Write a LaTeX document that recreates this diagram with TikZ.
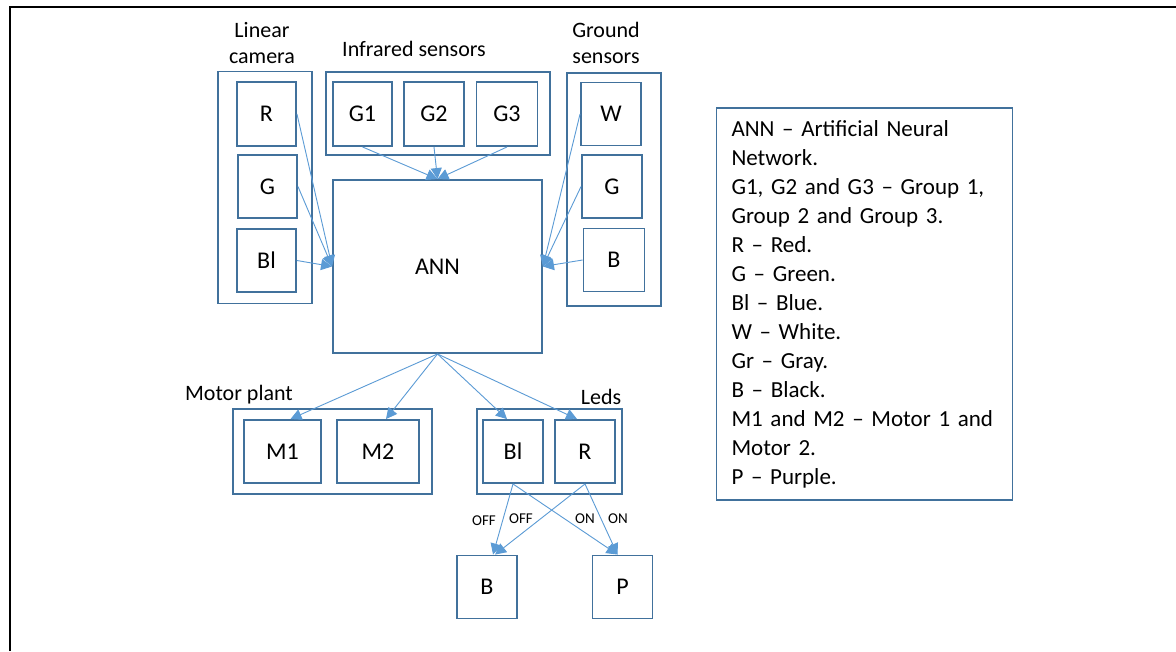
\documentclass[tikz,border=0pt]{standalone}
\usepackage{fontspec}
\setmainfont{Carlito}
\usetikzlibrary{arrows.meta}
\definecolor{boxblue}{HTML}{41719C}
\definecolor{arrblue}{HTML}{5B9BD5}
\begin{document}
\begin{tikzpicture}[x=1pt,y=-1pt,
  box/.style={draw=boxblue,line width=1.9pt,rectangle,inner sep=0pt,font=\fontsize{24}{28}\selectfont},
  grp/.style={draw=boxblue,line width=1.9pt,rectangle,inner sep=0pt},
  lbl/.style={inner sep=0pt,font=\fontsize{22}{26}\selectfont,align=center},
  small/.style={inner sep=0pt,font=\fontsize{15}{17}\selectfont},
  arr/.style={draw=arrblue,line width=0.9pt,-{Triangle[length=11pt,width=11pt]}}]
\useasboundingbox (0,0) rectangle (1176,651);
\fill[white] (0,0) rectangle (1176,651);
\draw[line width=2pt,black] (10,651) -- (10,7) -- (1176,7);
% group frames
\node[grp,minimum width=94,minimum height=232] (cam) at (265,187.5) {};
\node[grp,minimum width=224,minimum height=83] (ir) at (438,113.5) {};
\node[grp,minimum width=94,minimum height=233] (gnd) at (614,189.5) {};
\node[grp,minimum width=199,minimum height=85] (mot) at (332.5,451.5) {};
\node[grp,minimum width=145,minimum height=85] (leds) at (549.5,451.5) {};
% labels
\node[lbl] (lcam) at (262,43) {Linear\\camera};
\node[lbl] (lir) at (414,49) {Infrared sensors};
\node[lbl] (lgnd) at (606,43) {Ground\\sensors};
\node[lbl] (lmot) at (239,395) {Motor plant};
\node[lbl] (lleds) at (601,397) {Leds};
% camera
\node[box,minimum width=59,minimum height=64] (cR) at (266.5,114) {R};
\node[box,minimum width=59,minimum height=63] (cG) at (267.5,186.5) {G};
\node[box,minimum width=59,minimum height=63] (cB) at (266.5,260.5) {Bl};
% infrared
\node[box,minimum width=59,minimum height=64] (g1) at (362.5,114) {G1};
\node[box,minimum width=60,minimum height=64] (g2) at (434,114) {G2};
\node[box,minimum width=61,minimum height=64] (g3) at (507,114) {G3};
% ground
\node[box,minimum width=60,minimum height=63] (gW) at (611,114) {W};
\node[box,minimum width=60,minimum height=63] (gG) at (612,186.5) {G};
\node[box,minimum width=61,minimum height=63] (gB) at (614,260) {B};
% ANN
\node[box,minimum width=209,minimum height=173] (ann) at (437.5,266.5) {ANN};
% motors
\node[box,minimum width=77,minimum height=63] (m1) at (282.5,451.5) {M1};
\node[box,minimum width=82,minimum height=63] (m2) at (378,451.5) {M2};
% leds
\node[box,minimum width=60,minimum height=63] (lB) at (513,451.5) {Bl};
\node[box,minimum width=60,minimum height=63] (lR) at (585,451.5) {R};
% outputs
\node[box,minimum width=60,minimum height=63] (oB) at (487,587) {B};
\node[box,minimum width=60,minimum height=63] (oP) at (622.5,587) {P};
% legend
\node[draw=boxblue,line width=1.9pt,rectangle,minimum width=296,minimum height=392,text width=266,align=left,inner sep=0pt,font=\fontsize{23}{29}\selectfont] (leg) at (864.5,304) {ANN -- Artificial Neural\\Network.\\G1, G2 and G3 -- Group 1,\\Group 2 and Group 3.\\R -- Red.\\G -- Green.\\Bl -- Blue.\\W -- White.\\Gr -- Gray.\\B -- Black.\\M1 and M2 -- Motor 1 and\\Motor 2.\\P -- Purple.};
% arrows into ANN
\draw[arr] (cR.east) -- (ann.west);
\draw[arr] (cG.east) -- (ann.west);
\draw[arr] (cB.east) -- (ann.west);
\draw[arr] (g1.south) -- (ann.north);
\draw[arr] (g2.south) -- (ann.north);
\draw[arr] (g3.south) -- (ann.north);
\draw[arr] (gW.west) -- (ann.east);
\draw[arr] (gG.west) -- (ann.east);
\draw[arr] (gB.west) -- (ann.east);
% arrows out of ANN
\draw[arr] (ann.south) -- ([xshift=8pt]m1.north);
\draw[arr] (ann.south) -- ([xshift=8pt]m2.north);
\draw[arr] (ann.south) -- ([xshift=-6pt]lB.north);
\draw[arr] (ann.south) -- ([xshift=-8pt]lR.north);
% led outputs
\draw[arr] (lB.south) -- ([xshift=6pt]oB.north);
\draw[arr] (lR.south) -- ([xshift=8pt]oB.north);
\draw[arr] (lB.south) -- ([xshift=-5pt]oP.north);
\draw[arr] (lR.south) -- ([xshift=-5pt]oP.north);
\node[small] (off1) at (484,521) {OFF};
\node[small] (off2) at (521,519) {OFF};
\node[small] (on1) at (585,519) {ON};
\node[small] (on2) at (618,519) {ON};
\end{tikzpicture}
\end{document}
